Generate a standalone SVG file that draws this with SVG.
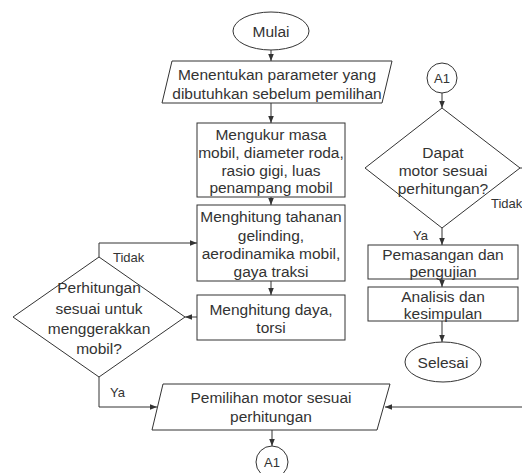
<svg xmlns="http://www.w3.org/2000/svg" width="522" height="473" viewBox="0 0 522 473">
<style>
.s{fill:#fff;stroke:#333;stroke-width:1}
.t{font-family:"Liberation Sans",Arial,sans-serif;font-size:15.5px;fill:#333;text-anchor:middle}
.l{font-family:"Liberation Sans",Arial,sans-serif;font-size:13px;fill:#333}
.c{fill:none;stroke:#333;stroke-width:1;marker-end:url(#a)}
</style>
<defs>
<marker id="a" viewBox="0 0 10 10" refX="10" refY="5" markerWidth="7" markerHeight="7" markerUnits="userSpaceOnUse" orient="auto">
<path d="M0,1 L10,5 L0,9 Z" fill="#333"/>
</marker>
</defs>
<rect width="522" height="473" fill="#fff"/>
<g id="connectors">
<path class="c" d="M271,50 V61"/>
<path class="c" d="M271,103 V123"/>
<path class="c" d="M271,197 V205"/>
<path class="c" d="M271,281 V295"/>
<path class="c" d="M197,317 H185"/>
<path class="c" d="M99,257 V243 H197"/>
<path class="c" d="M99,377 V407 H157"/>
<path class="c" d="M272,430 V446"/>
<path class="c" d="M442,93 V108"/>
<path class="c" d="M442,228 V245"/>
<path class="c" d="M442,279 V287"/>
<path class="c" d="M442,321 V342"/>
<path class="c" d="M520,168 H540 V407 H385"/>
<text class="l" x="113" y="262">Tidak</text>
<text class="l" x="110" y="397">Ya</text>
<text class="l" x="491" y="208">Tidak</text>
<text class="l" x="413" y="240">Ya</text>
</g>
<g id="mulai">
<ellipse class="s" cx="271" cy="31" rx="38" ry="19"/>
<text class="t" x="271" y="37">Mulai</text>
</g>
<g id="menentukan">
<polygon class="s" points="172,61 392,61 382,103 162,103"/>
<text class="t" x="277" y="80">Menentukan parameter yang</text>
<text class="t" x="277" y="99">dibutuhkan sebelum pemilihan</text>
</g>
<g id="mengukur">
<rect class="s" x="197" y="123" width="148" height="74"/>
<text class="t" x="271" y="140">Mengukur masa</text>
<text class="t" x="271" y="158">mobil, diameter roda,</text>
<text class="t" x="271" y="176">rasio gigi, luas</text>
<text class="t" x="271" y="193">penampang mobil</text>
</g>
<g id="tahanan">
<rect class="s" x="197" y="205" width="148" height="76"/>
<text class="t" x="271" y="222">Menghitung tahanan</text>
<text class="t" x="271" y="241">gelinding,</text>
<text class="t" x="271" y="259">aerodinamika mobil,</text>
<text class="t" x="271" y="277">gaya traksi</text>
</g>
<g id="daya">
<rect class="s" x="197" y="295" width="148" height="45"/>
<text class="t" x="271" y="315">Menghitung daya,</text>
<text class="t" x="271" y="333">torsi</text>
</g>
<g id="perhitungan-sesuai">
<polygon class="s" points="99,257 185,317 99,377 13,317"/>
<text class="t" x="99" y="293">Perhitungan</text>
<text class="t" x="99" y="314">sesuai untuk</text>
<text class="t" x="99" y="334">menggerakkan</text>
<text class="t" x="99" y="354">mobil?</text>
</g>
<g id="pemilihan">
<polygon class="s" points="163,384 390,384 377,430 152,430"/>
<text class="t" x="271" y="403">Pemilihan motor sesuai</text>
<text class="t" x="271" y="422">perhitungan</text>
</g>
<g id="a1-bottom">
<circle class="s" cx="272" cy="462" r="16"/>
<text class="l" x="272" y="467" text-anchor="middle">A1</text>
</g>
<g id="a1-top">
<circle class="s" cx="442" cy="78" r="15"/>
<text class="l" x="442" y="83" text-anchor="middle">A1</text>
</g>
<g id="dapat-motor">
<polygon class="s" points="442,108 520,168 442,228 365,168"/>
<text class="t" x="443" y="158">Dapat</text>
<text class="t" x="443" y="176">motor sesuai</text>
<text class="t" x="443" y="194">perhitungan?</text>
</g>
<g id="pemasangan">
<rect class="s" x="368" y="245" width="150" height="34"/>
<text class="t" x="443" y="260">Pemasangan dan</text>
<text class="t" x="443" y="277">pengujian</text>
</g>
<g id="analisis">
<rect class="s" x="368" y="287" width="150" height="34"/>
<text class="t" x="443" y="302">Analisis dan</text>
<text class="t" x="443" y="319">kesimpulan</text>
</g>
<g id="selesai">
<ellipse class="s" cx="443" cy="362" rx="38" ry="20"/>
<text class="t" x="443" y="368">Selesai</text>
</g>
</svg>
